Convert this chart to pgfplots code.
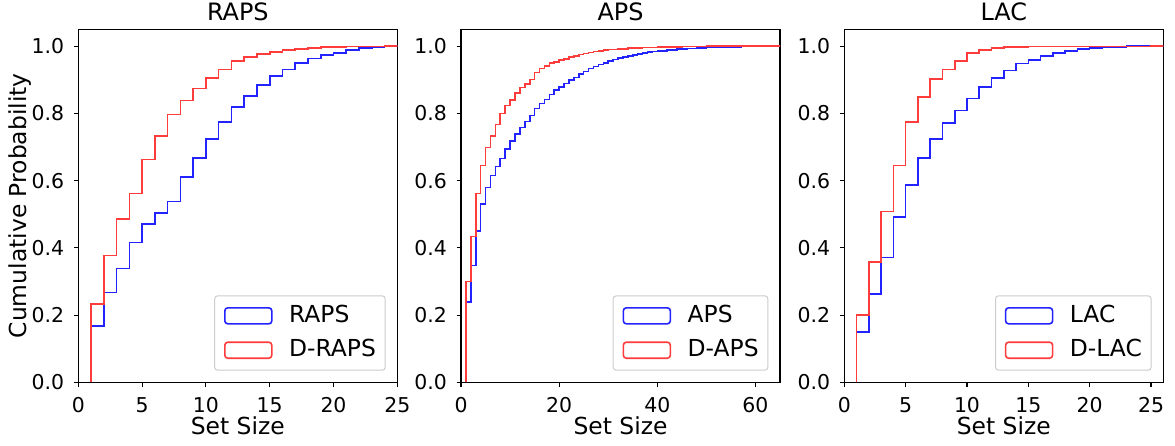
\documentclass[border=0pt]{standalone}
\usepackage{fontspec}
\setmainfont{DejaVu Sans}
\usepackage{pgfplots}
\pgfplotsset{compat=1.18}
\definecolor{cb}{RGB}{35,35,255}
\definecolor{cr}{RGB}{255,60,60}
\pgfplotsset{
  panel/.style={
    scale only axis, width=319bp, height=353bp,
    xmin=0, ymin=0, ymax=1.05,
    axis line style={line width=1.1bp, black},
    every tick/.style={black, line width=1.1bp},
    tick align=outside, major tick length=4.5bp,
    xtick pos=left, ytick pos=left,
    ytick={0,0.2,0.4,0.6,0.8,1.0},
    /pgf/number format/assume math mode=true,
    tick label style={font=\fontsize{20.5}{23}\selectfont},
    xticklabel style={anchor=base, yshift=-25.6bp, inner sep=0pt},
    yticklabel style={/pgf/number format/fixed, /pgf/number format/fixed zerofill, /pgf/number format/precision=1,
      anchor=east, xshift=-9.5bp, inner sep=0pt},
    every axis title/.style={font=\fontsize{24}{27}\selectfont, at={(axis description cs:0.5,1.0244)}, anchor=base,
      inner sep=0pt, text height=17.5bp, text depth=0pt},
    every axis x label/.style={font=\fontsize{23.5}{26}\selectfont, at={(axis description cs:0.5,-0.1465)}, anchor=base},
    every axis y label/.style={font=\fontsize{23.5}{26}\selectfont, at={(axis description cs:-0.1624,0.5)}, rotate=90, anchor=base},
    xlabel={Set Size},
    const plot,
    legend image code/.code={\draw[#1] (0bp,-8bp) rectangle (47bp,8bp);},
    legend cell align=left,
    legend style={at={(axis description cs:1,0)}, anchor=south east, xshift=-11.6bp, yshift=11.6bp,
      draw=black!20, line width=1bp, rounded corners=3bp, fill=white, fill opacity=0.8, text opacity=1,
      font=\fontsize{23.5}{26}\selectfont,
      inner xsep=9.3bp, inner ysep=9.3bp, row sep=13bp,
      nodes={inner sep=0pt, text depth=4bp},
      /tikz/every odd column/.append style={column sep=16.5bp}},
  },
  sb/.style={cb, line width=1.6bp, mark=none},
  sr/.style={cr, line width=1.6bp, mark=none},
}
\begin{document}
\begin{tikzpicture}
\path[use as bounding box] (0,0) rectangle (1175bp,446bp);
% ---------------- RAPS
\begin{axis}[panel, at={(78.3bp,63.7bp)}, anchor=south west,
  xmax=25, xtick={0,5,10,15,20,25}, title={RAPS}, ylabel={Cumulative Probability}]
\addplot[sb] coordinates {(1,0)(1,0.168)(2,0.267)(3,0.338)(4,0.416)(5,0.470)(6,0.504)(7,0.538)(8,0.610)(9,0.668)(10,0.724)(11,0.775)(12,0.818)(13,0.852)(14,0.885)(15,0.911)(16,0.931)(17,0.949)(18,0.963)(19,0.973)(20,0.980)(21,0.988)(22,0.994)(23,0.998)(24,1.0)(26,1.0)};
\addlegendentry{RAPS}
\addplot[sr] coordinates {(1,0)(1,0.233)(2,0.377)(3,0.486)(4,0.562)(5,0.663)(6,0.732)(7,0.796)(8,0.838)(9,0.874)(10,0.906)(11,0.930)(12,0.955)(13,0.968)(14,0.977)(15,0.983)(16,0.988)(17,0.992)(18,0.995)(19,0.997)(20,0.998)(21,0.999)(24,1.0)(26,1.0)};
\addlegendentry{D-RAPS}
\end{axis}
% ---------------- APS
\begin{axis}[panel, at={(461bp,63.7bp)}, anchor=south west,
  xmax=65, xtick={0,20,40,60}, title={APS}]
\addplot[sb] coordinates {(1,0)(1,0.239)(2,0.348)(3,0.450)(4,0.531)(5,0.580)(6,0.615)(7,0.642)(8,0.666)(9,0.694)(10,0.718)(11,0.738)(12,0.758)(13,0.776)(14,0.794)(15,0.814)(16,0.829)(17,0.841)(18,0.856)(19,0.869)(20,0.879)(21,0.889)(22,0.899)(23,0.907)(24,0.917)(25,0.925)(26,0.933)(27,0.939)(28,0.945)(29,0.950)(30,0.955)(31,0.960)(32,0.964)(33,0.968)(34,0.971)(35,0.974)(36,0.977)(37,0.980)(38,0.982)(39,0.984)(40,0.986)(42,0.989)(44,0.991)(46,0.993)(48,0.995)(50,0.996)(53,0.998)(57,0.999)(60,1.0)(70,1.0)};
\addlegendentry{APS}
\addplot[sr] coordinates {(1,0)(1,0.300)(2,0.434)(3,0.562)(4,0.645)(5,0.698)(6,0.732)(7,0.767)(8,0.800)(9,0.823)(10,0.840)(11,0.861)(12,0.877)(13,0.887)(14,0.901)(15,0.921)(16,0.933)(17,0.941)(18,0.949)(19,0.953)(20,0.958)(21,0.962)(22,0.968)(23,0.971)(24,0.975)(25,0.978)(26,0.981)(27,0.984)(28,0.986)(29,0.988)(30,0.990)(32,0.992)(34,0.994)(37,0.996)(40,0.998)(45,0.999)(50,1.0)(70,1.0)};
\addlegendentry{D-APS}
\end{axis}
% ---------------- LAC
\begin{axis}[panel, at={(844.3bp,63.7bp)}, anchor=south west,
  xmax=26, xtick={0,5,10,15,20,25}, title={LAC}]
\addplot[sb] coordinates {(1,0)(1,0.149)(2,0.263)(3,0.371)(4,0.492)(5,0.587)(6,0.667)(7,0.724)(8,0.772)(9,0.808)(10,0.844)(11,0.879)(12,0.906)(13,0.927)(14,0.948)(15,0.959)(16,0.971)(17,0.980)(18,0.986)(19,0.991)(20,0.995)(21,0.997)(23,1.0)(27,1.0)};
\addlegendentry{LAC}
\addplot[sr] coordinates {(1,0)(1,0.201)(2,0.357)(3,0.508)(4,0.645)(5,0.774)(6,0.849)(7,0.902)(8,0.930)(9,0.955)(10,0.979)(11,0.989)(12,0.994)(13,0.997)(14,0.998)(15,0.999)(25,1.0)(27,1.0)};
\addlegendentry{D-LAC}
\end{axis}
\end{tikzpicture}
\end{document}
